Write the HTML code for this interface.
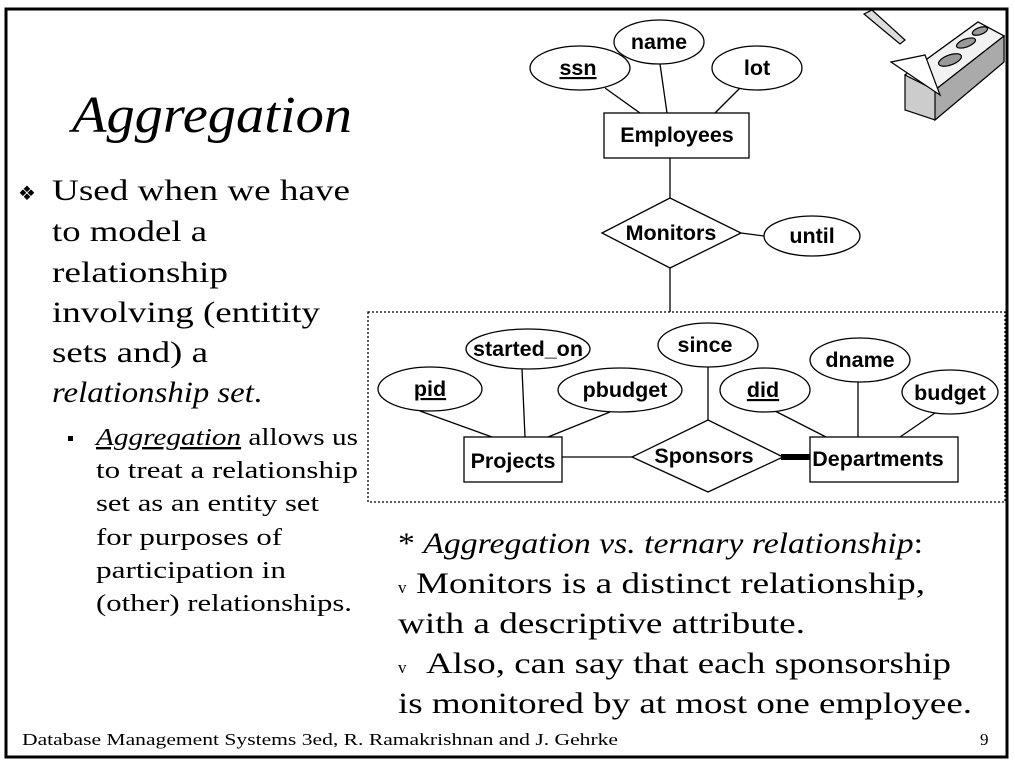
<!DOCTYPE html>
<html><head><meta charset="utf-8"><style>
body{margin:0;background:#fff;width:1015px;height:764px;overflow:hidden}
svg{display:block}
.s{font-family:"Liberation Serif",serif}
.a{font-family:"Liberation Sans",sans-serif;font-weight:bold;font-size:21.5px}
</style></head><body>
<svg width="1015" height="764" viewBox="0 0 1015 764">
<rect x="6" y="9" width="1001" height="748" fill="none" stroke="#000" stroke-width="3"/>
<!-- icon -->
<g stroke="#000" stroke-width="1.2">
<polygon points="905,75 978,22 1004,36 1004,62 935,120 905,110" fill="#ccc"/>
<polygon points="905,75 978,22 1004,36 935,90" fill="#f2f2f2"/>
<polygon points="935,90 1004,36 1004,62 935,120" fill="#aaa"/>
<ellipse cx="950" cy="60" rx="12" ry="5" fill="#999" transform="rotate(-20 950 60)"/>
<ellipse cx="966" cy="43" rx="10" ry="4" fill="#999" transform="rotate(-20 966 43)"/>
<ellipse cx="980" cy="31" rx="8" ry="3.5" fill="#999" transform="rotate(-20 980 31)"/>
<polygon points="864,14 872,10 905,40 900,44" fill="#ddd"/>
<polygon points="891,62 925,55 940,95" fill="#fff"/>
</g>
<text x="72" y="132" class="s" font-size="52" font-style="italic" textLength="280" lengthAdjust="spacingAndGlyphs">Aggregation</text>
<g class="s" font-size="30" lengthAdjust="spacingAndGlyphs">
<text x="18" y="200" font-size="20">❖</text>
<text x="52" y="200" textLength="298" lengthAdjust="spacingAndGlyphs">Used when we have</text>
<text x="52" y="241" textLength="155" lengthAdjust="spacingAndGlyphs">to model a</text>
<text x="52" y="282" textLength="176" lengthAdjust="spacingAndGlyphs">relationship</text>
<text x="52" y="322" textLength="268" lengthAdjust="spacingAndGlyphs">involving (entitity</text>
<text x="52" y="362" textLength="156" lengthAdjust="spacingAndGlyphs">sets and) a</text>
<text x="52" y="402" textLength="210" lengthAdjust="spacingAndGlyphs"><tspan font-style="italic">relationship set</tspan>.</text>
</g>
<g class="s" font-size="24">
<rect x="68" y="436" width="5" height="5"/>
<text x="96" y="445" textLength="262" lengthAdjust="spacingAndGlyphs"><tspan font-style="italic" text-decoration="underline">Aggregation</tspan> allows us</text>
<text x="96" y="478" textLength="262" lengthAdjust="spacingAndGlyphs">to treat a relationship</text>
<text x="96" y="511" textLength="223" lengthAdjust="spacingAndGlyphs">set as an entity set</text>
<text x="96" y="545" textLength="186" lengthAdjust="spacingAndGlyphs">for purposes of</text>
<text x="96" y="578" textLength="190" lengthAdjust="spacingAndGlyphs">participation in</text>
<text x="96" y="611" textLength="256" lengthAdjust="spacingAndGlyphs">(other) relationships.</text>
</g>
<g class="s" font-size="30">
<text x="398" y="553" textLength="525" lengthAdjust="spacingAndGlyphs">* <tspan font-style="italic">Aggregation vs. ternary relationship</tspan>:</text>
<text x="398" y="593" font-size="17">v</text>
<text x="416" y="593" textLength="509" lengthAdjust="spacingAndGlyphs">Monitors is a distinct relationship,</text>
<text x="398" y="633" textLength="407" lengthAdjust="spacingAndGlyphs">with a descriptive attribute.</text>
<text x="398" y="673" font-size="17">v</text>
<text x="426" y="673" textLength="525" lengthAdjust="spacingAndGlyphs">Also, can say that each sponsorship</text>
<text x="398" y="713" textLength="574" lengthAdjust="spacingAndGlyphs">is monitored by at most one employee.</text>
</g>
<text x="22" y="745" class="s" font-size="17" textLength="596" lengthAdjust="spacingAndGlyphs">Database Management Systems 3ed,  R. Ramakrishnan and J. Gehrke</text>
<text x="980" y="745" class="s" font-size="17">9</text>
<!-- diagram -->
<g stroke="#000" stroke-width="1.3" fill="#fff">
<line x1="605" y1="88" x2="640" y2="113"/><line x1="660" y1="64" x2="667" y2="113"/><line x1="740" y1="88" x2="715" y2="113"/>
<line x1="670" y1="158" x2="670" y2="198"/><line x1="741" y1="233" x2="764" y2="236"/><line x1="670" y1="268" x2="670" y2="312"/>
<ellipse cx="580" cy="68" rx="50" ry="22"/><ellipse cx="659" cy="42" rx="45" ry="22"/><ellipse cx="757" cy="68" rx="45" ry="22"/>
<rect x="604" y="113" width="145" height="45"/>
<polygon points="602,233 670,198 741,233 670,268"/>
<ellipse cx="812" cy="236" rx="48" ry="20"/>
<rect x="368" y="312" width="637" height="190" fill="none" stroke-dasharray="2,2"/>
<line x1="420" y1="411" x2="492" y2="437"/><line x1="522" y1="369" x2="525" y2="437"/><line x1="610" y1="412" x2="548" y2="437"/>
<line x1="708" y1="367" x2="708" y2="420"/><line x1="775" y1="411" x2="826" y2="437"/><line x1="858" y1="382" x2="858" y2="437"/><line x1="935" y1="413" x2="900" y2="437"/>
<line x1="562" y1="457" x2="632" y2="457"/>
<ellipse cx="430" cy="389" rx="52" ry="22"/><ellipse cx="528" cy="349" rx="62" ry="20"/><ellipse cx="620" cy="390" rx="62" ry="22"/>
<ellipse cx="708" cy="345" rx="50" ry="22"/><ellipse cx="765" cy="390" rx="45" ry="22"/><ellipse cx="860" cy="360" rx="50" ry="22"/><ellipse cx="950" cy="392" rx="48" ry="22"/>
<rect x="464" y="437" width="98" height="45"/>
<polygon points="632,457 708,420 783,457 708,492"/>
<rect x="810" y="437" width="148" height="45"/>
</g>
<rect x="781" y="454" width="29" height="6" fill="#000"/>
<g class="a" text-anchor="middle">
<text x="578" y="75" text-decoration="underline">ssn</text><text x="659" y="49">name</text><text x="757" y="75">lot</text>
<text x="677" y="142">Employees</text><text x="671" y="240">Monitors</text><text x="812" y="243">until</text>
<text x="430" y="396" text-decoration="underline">pid</text><text x="528" y="356">started_on</text><text x="625" y="397">pbudget</text>
<text x="705" y="352">since</text><text x="763" y="397" text-decoration="underline">did</text><text x="860" y="367">dname</text><text x="950" y="400">budget</text>
<text x="513" y="468">Projects</text><text x="704" y="463">Sponsors</text><text x="878" y="466">Departments</text>
</g>
</svg>
</body></html>
